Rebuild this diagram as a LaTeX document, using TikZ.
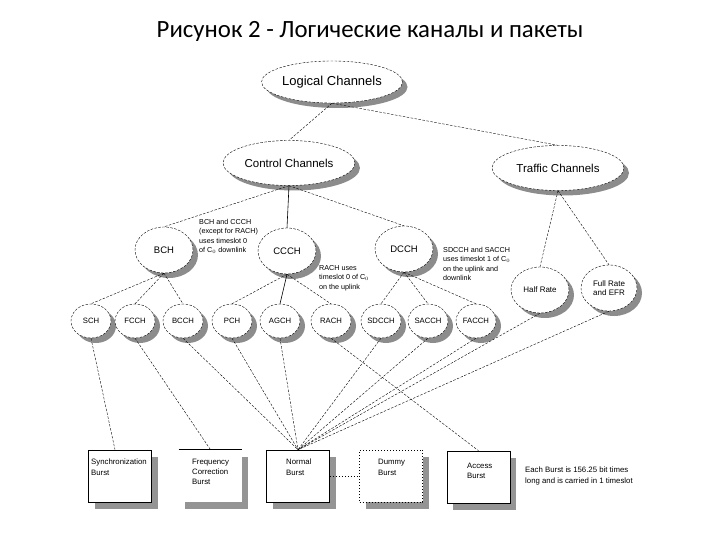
\documentclass[tikz,border=0pt]{standalone}
\usepackage{fontspec}
\setmainfont{Liberation Sans}
\newfontfamily\titlefont{Carlito}
\usetikzlibrary{shadows,shapes.geometric}
\begin{document}
\begin{tikzpicture}[x=1pt,y=-1pt,
  chan/.style={ellipse, draw, line width=0.4pt, dash pattern=on 2.5pt off 1.5pt, fill=white, inner sep=0pt, align=center,
    drop shadow={shadow xshift=5pt, shadow yshift=-5pt, fill=black!45, opacity=1}},
  bigchan/.style={chan, minimum width=132pt, minimum height=45pt, font=\fontsize{11.5}{13}\selectfont},
  midchan/.style={chan, minimum width=58pt, minimum height=46pt, font=\fontsize{9.5}{11}\selectfont},
  smallchan/.style={chan, minimum width=40pt, minimum height=34pt, font=\fontsize{7.7}{9}\selectfont},
  conn/.style={line width=0.4pt, dash pattern=on 2.5pt off 1.5pt},
  solidconn/.style={line width=0.6pt},
  burst/.style={rectangle, draw, line width=0.6pt, fill=white, minimum width=63pt, minimum height=52pt, inner sep=0pt,
    drop shadow={shadow xshift=6pt, shadow yshift=-7pt, fill=black!42, opacity=1}},
  btext/.style={anchor=north west, inner sep=0pt, align=left, font=\fontsize{7.8}{11}\selectfont},
  note/.style={anchor=north west, inner sep=0pt, align=left, font=\fontsize{7.2}{9.4}\selectfont}
]
\useasboundingbox (0,0) rectangle (720,540);

\node[font=\titlefont\fontsize{24.8}{28}\selectfont] (title) at (370,31) {Рисунок 2 - Логические каналы и пакеты};

% level 1-2
\node[bigchan, minimum width=131pt, minimum height=42pt, font=\fontsize{13}{15}\selectfont] (logical) at (332,82) {Logical Channels};
\node[bigchan] (control) at (289,163) {Control Channels};
\node[bigchan] (traffic) at (558,168) {Traffic Channels};

% level 3
\node[midchan] (bch) at (164,250) {BCH};
\node[midchan] (ccch) at (287,251) {CCCH};
\node[midchan] (dcch) at (404,249) {DCCH};
\node[midchan, font=\fontsize{8}{9.5}\selectfont] (half) at (540,290) {Half Rate};
\node[midchan, minimum width=56pt, font=\fontsize{8}{9.5}\selectfont] (full) at (609,288) {Full Rate\\and EFR};

% level 4
\node[smallchan] (sch) at (91,321) {SCH};
\node[smallchan] (fcch) at (135,321) {FCCH};
\node[smallchan] (bcch) at (183,321) {BCCH};
\node[smallchan] (pch) at (232,321) {PCH};
\node[smallchan] (agch) at (280,321) {AGCH};
\node[smallchan] (rach) at (331,321) {RACH};
\node[smallchan] (sdcch) at (381,321) {SDCCH};
\node[smallchan] (sacch) at (428,321) {SACCH};
\node[smallchan] (facch) at (476,321) {FACCH};

% notes
\node[note] (n1) at (199,219) {BCH and CCCH\\(except for RACH)\\uses timeslot 0\\of C$_0$ downlink};
\node[note] (n2) at (319,265) {RACH uses\\timeslot 0 of C$_0$\\on the uplink};
\node[note] (n3) at (443,247) {SDCCH and SACCH\\uses timeslot 1 of C$_0$\\on the uplink and\\downlink};

% bursts
\node[burst] (sync) at (120,476) {};
\node[burst, draw=none] (freq) at (210.5,476) {};
\node[burst] (normal) at (298,476) {};
\node[burst, line width=1pt, dotted] (dummy) at (391,476) {};
\node[burst] (access) at (478.5,477) {};
\draw[line width=0.6pt] (freq.north west) -- (freq.north east);

\node[btext] (synct) at (91,459) {Synchronization\\Burst};
\node[btext, font=\fontsize{7.8}{10}\selectfont] (freqt) at (192,459) {Frequency\\Correction\\Burst};
\node[btext] (normalt) at (286,459) {Normal\\Burst};
\node[btext] (dummyt) at (378,459) {Dummy\\Burst};
\node[btext, font=\fontsize{7.8}{10}\selectfont] (accesst) at (467,463) {Access\\Burst};
\node[btext, font=\fontsize{7.8}{10.5}\selectfont] (each) at (525,467) {Each Burst is 156.25 bit times\\long and is carried in 1 timeslot};

% connectors top
\draw[conn] (logical.south) -- (control.north);
\draw[conn] (logical.south) -- (traffic.north);
\draw[conn] (control.south) -- (bch.north);
\draw[solidconn] (control.south) -- (ccch.north);
\draw[conn] (control.south) -- (dcch.north);
\draw[conn] (traffic.south) -- (half.north);
\draw[conn] (traffic.south) -- (full.north);
\draw[conn] (bch.south) -- (sch.north);
\draw[conn] (bch.south) -- (fcch.north);
\draw[conn] (bch.south) -- (bcch.north);
\draw[conn] (ccch.south) -- (pch.north);
\draw[solidconn] (ccch.south) -- (agch.north);
\draw[conn] (ccch.south) -- (rach.north);
\draw[conn] (dcch.south) -- (sdcch.north);
\draw[conn] (dcch.south) -- (sacch.north);
\draw[conn] (dcch.south) -- (facch.north);

% connectors to bursts
\draw[conn] (sch.south) -- ([xshift=-5pt]sync.north);
\draw[conn] (fcch.south) -- (freq.north);
\foreach \c in {bcch,pch,agch,sdcch,sacch,facch,half,full}
  \draw[conn] (\c.south) -- (normal.north);
\draw[conn] (rach.south) -- (access.north);
\draw[line width=1pt, dotted] (normal.east) -- (dummy.west);
\end{tikzpicture}
\end{document}
